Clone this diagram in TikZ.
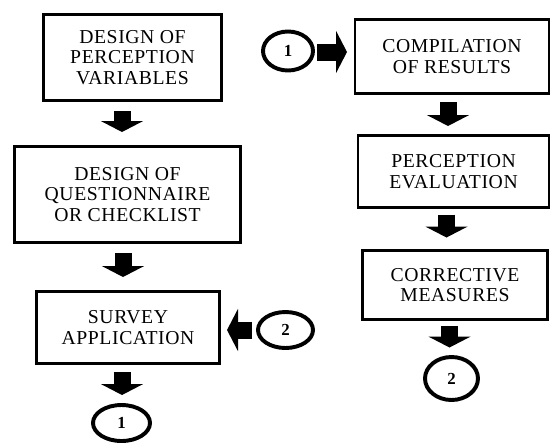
\documentclass[tikz,border=0pt]{standalone}
\usepackage{fontspec}
\setmainfont{Liberation Serif}[LetterSpace=3]
\usetikzlibrary{arrows.meta,shapes.geometric}

\begin{document}
\begin{tikzpicture}[x=0.25mm, y=-0.25mm,
        procbox/.style={draw, line width=2.1pt, inner sep=0pt, outer sep=0pt, align=center, font=\fontsize{14}{14.5}\selectfont},
        linkcircle/.style={draw, ellipse, line width=2.8pt, inner sep=0pt, outer sep=0pt, font=\fontsize{12}{12}\selectfont\bfseries},
        blockarrow/.style={line width=4.25mm, -{Triangle[length=2.75mm, width=10.5mm]}}]
        \useasboundingbox (0,0) rectangle (552,445);

        % left column
        \node[procbox, minimum width=44.5mm, minimum height=21.5mm] (design) at (132.5,57.5) {DESIGN OF\\PERCEPTION\\VARIABLES};
        \node[procbox, minimum width=56.5mm, minimum height=24mm] (questionnaire) at (127.5,194.5) {DESIGN OF\\QUESTIONNAIRE\\OR CHECKLIST};
        \node[procbox, minimum width=45.75mm, minimum height=18mm] (survey) at (128,327.5) {SURVEY\\APPLICATION};

        % right column
        \node[procbox, minimum width=48.5mm, minimum height=18.5mm] (compilation) at (452,56.5) {COMPILATION\\OF RESULTS};
        \node[procbox, minimum width=47.75mm, minimum height=18mm] (evaluation) at (453.5,171.5) {PERCEPTION\\EVALUATION};
        \node[procbox, minimum width=46.25mm, minimum height=17.25mm] (corrective) at (455,285) {CORRECTIVE\\MEASURES};

        % links
        \node[linkcircle, minimum width=12.5mm, minimum height=9.75mm] (onea) at (288,51) {1};
        \node[linkcircle, minimum width=14.25mm, minimum height=9mm] (oneb) at (121.5,423) {1};
        \node[linkcircle, minimum width=13.75mm, minimum height=9mm] (twoa) at (285.5,330) {2};
        \node[linkcircle, minimum width=13.25mm, minimum height=10.75mm] (twob) at (451.5,378.5) {2};

        \draw[blockarrow] (design.south) ++(-10.5,10.5) -- ++(0,21);
        \draw[blockarrow] (questionnaire.south) ++(-4.5,10.5) -- ++(0,24);
        \draw[blockarrow] (survey.south) ++(-6,8.5) -- ++(0,23);
        \draw[blockarrow] (twoa.west) ++(-6,0) -- ++(-25,0);

        \draw[blockarrow] (onea.east) ++(4,1) -- ++(30,0);
        \draw[blockarrow] (compilation.south) ++(-4,8.5) -- ++(0,24);
        \draw[blockarrow] (evaluation.south) ++(-7,7) -- ++(0,23);
        \draw[blockarrow] (corrective.south) ++(-5.5,6) -- ++(0,22);
    \end{tikzpicture}
\end{document}
